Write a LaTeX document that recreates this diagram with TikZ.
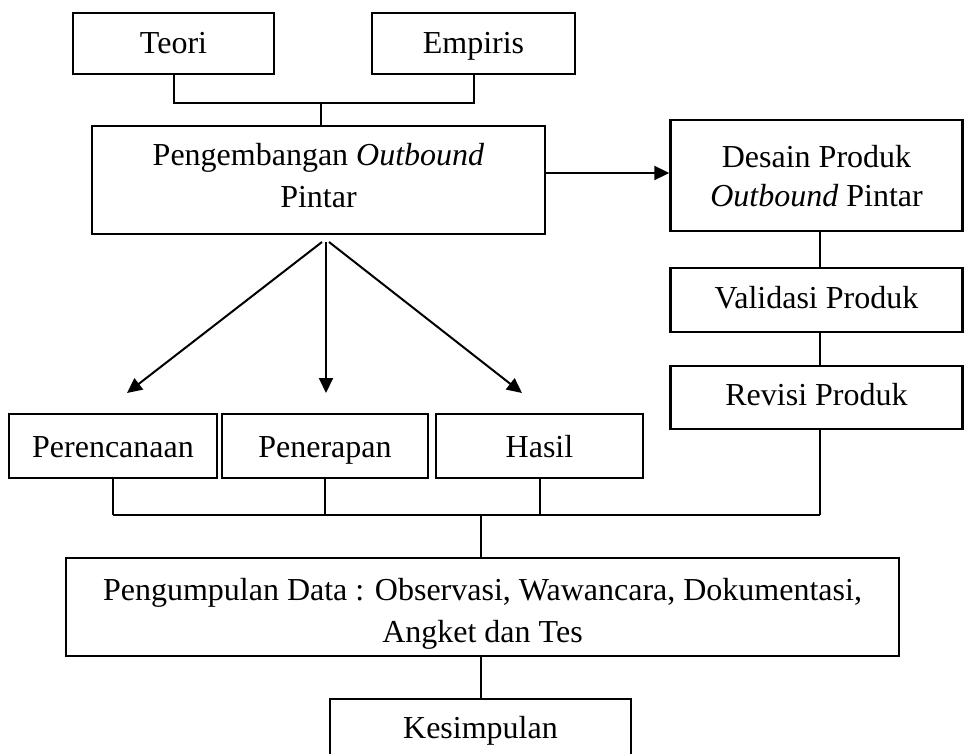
\documentclass[tikz,border=0pt]{standalone}
\usepackage{fontspec}
\setmainfont{Liberation Serif}
\usetikzlibrary{arrows.meta}
\begin{document}
\begin{tikzpicture}[x=1pt,y=-1pt,
  box/.style={draw, line width=2.4pt, rectangle, inner sep=0pt, align=center,
    font=\fontsize{32}{42}\selectfont},
  tx/.style 2 args={execute at begin node={\rule{0pt}{#1pt}},
    execute at end node={\rule[-#2pt]{0pt}{#2pt}}},
  conn/.style={line width=2pt},
  arr/.style={line width=2pt, -{Triangle[length=15pt,width=14pt]}}]
\useasboundingbox (0,0) rectangle (964,753);
% top boxes
\node[box, tx={33}{14}, minimum width=201pt, minimum height=61pt] (teori) at (173.5,43.5) {Teori};
\node[box, tx={33}{14}, minimum width=203pt, minimum height=61pt] (empiris) at (473.5,43.5) {Empiris};
\node[box, tx={70}{16}, font=\fontsize{32}{42}\selectfont, minimum width=453pt, minimum height=108pt] (peng) at (318.5,180) {Pengembangan \textit{Outbound}\\Pintar};
% right column
\node[box, tx={75}{14}, font=\fontsize{32}{39}\selectfont, minimum width=292pt, minimum height=111pt] (desain) at (816.5,175.5) {Desain Produk\\\textit{Outbound} Pintar};
\node[box, tx={30}{14}, minimum width=292pt, minimum height=64pt] (val) at (816.5,300) {Validasi Produk};
\node[box, tx={29}{14}, minimum width=292pt, minimum height=63pt] (rev) at (816.5,397.5) {Revisi Produk};
% middle row
\node[box, tx={36}{14}, minimum width=208pt, minimum height=64pt] (per) at (113,446) {Perencanaan};
\node[box, tx={36}{14}, minimum width=206pt, minimum height=64pt] (pen) at (325,446) {Penerapan};
\node[box, tx={36}{14}, minimum width=207pt, minimum height=64pt] (has) at (539.5,446) {Hasil};
% bottom
\node[box, tx={80}{10}, font=\fontsize{32}{42}\selectfont, minimum width=833pt, minimum height=98pt] (pd) at (482.5,607) {Pengumpulan Data : Observasi, Wawancara, Dokumentasi,\\Angket dan Tes};
\node[box, tx={27}{20}, minimum width=301pt, minimum height=71pt] (kes) at (480.5,734.5) {Kesimpulan};
% helper coordinates
\coordinate (top) at (321,103);
\coordinate (col) at (820,0);
\coordinate (bus) at (481,515);
\coordinate (s1) at (322,242);
\coordinate (s2) at (326,242);
\coordinate (s3) at (329,242);
\coordinate (t1) at (127,393);
\coordinate (t2) at (326,393);
\coordinate (t3) at (522,393);
% top connectors
\draw[conn] (teori.south) -- (teori.south |- top) -- (empiris.south |- top) -- (empiris.south);
\draw[conn] (top) -- (top |- peng.north);
% arrow right
\draw[arr] (peng.east |- 0,173) -- (desain.west |- 0,173);
% right column connectors
\draw[conn] (desain.south -| col) -- (val.north -| col);
\draw[conn] (val.south -| col) -- (rev.north -| col);
% three arrows
\draw[arr] (s1) -- (t1);
\draw[arr] (s2) -- (t2);
\draw[arr] (s3) -- (t3);
% bus
\draw[conn] (per.south) -- (per.south |- bus);
\draw[conn] (pen.south) -- (pen.south |- bus);
\draw[conn] (has.south) -- (has.south |- bus);
\draw[conn] (rev.south -| col) -- (col |- bus);
\draw[conn] (per.south |- bus) -- (col |- bus);
\draw[conn] (bus) -- (bus |- pd.north);
\draw[conn] (pd.south -| bus) -- (bus |- kes.north);
\end{tikzpicture}
\end{document}
